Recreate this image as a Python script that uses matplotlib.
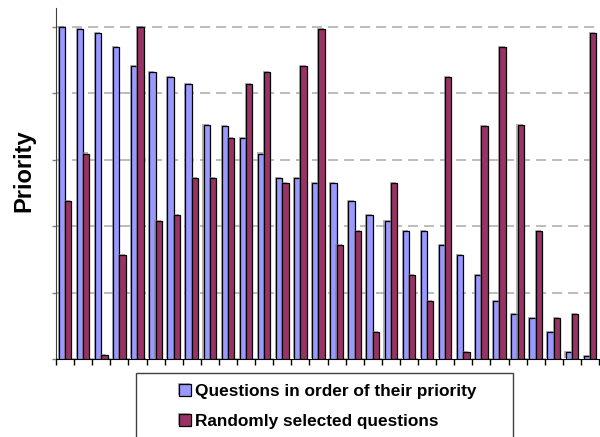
import matplotlib
matplotlib.use("Agg")
import matplotlib.pyplot as plt
import matplotlib.patheffects as pe
from matplotlib.patches import Rectangle
import numpy as np

# Priority scores of 30 questions, two orderings
ordered_priority = [5.00, 4.96, 4.90, 4.69, 4.41, 4.31, 4.24, 4.13, 3.52, 3.51,
                    3.32, 3.09, 2.72, 2.72, 2.65, 2.64, 2.38, 2.16, 2.07, 1.93,
                    1.93, 1.72, 1.56, 1.26, 0.87, 0.68, 0.62, 0.40, 0.105, 0.045]
random_priority = [2.38, 3.09, 0.06, 1.56, 5.00, 2.07, 2.16, 2.72, 2.72, 3.32,
                   4.13, 4.31, 2.65, 4.41, 4.96, 1.72, 1.93, 0.40, 2.64, 1.26,
                   0.87, 4.24, 0.105, 3.51, 4.69, 3.52, 1.93, 0.62, 0.68, 4.90]
series_labels = ["Questions in order of their priority", "Randomly selected questions"]
series_colors = ["#9999FF", "#993366"]

fig = plt.figure(figsize=(6.0, 4.37), dpi=100)
ax = fig.add_axes([56 / 600, 1 - 359 / 437, 543 / 600, 351 / 437])

n = len(ordered_priority)
x = np.arange(n) + 0.5
w = 0.35
shadow = [pe.SimplePatchShadow(offset=(-0.8, 0.8), shadow_rgbFace="#808080", alpha=0.6), pe.Normal()]
b1 = ax.bar(x - w / 2, ordered_priority, w, color=series_colors[0], edgecolor="black",
            linewidth=0.9, label=series_labels[0], zorder=3)
b2 = ax.bar(x + w / 2, random_priority, w, color=series_colors[1], edgecolor="black",
            linewidth=0.9, label=series_labels[1], zorder=3)
for bar in list(b1) + list(b2):
    bar.set_path_effects(shadow)

ax.set_xlim(0, n)
ax.set_ylim(0, 5.28)
ax.set_yticks([0, 1, 2, 3, 4, 5])
ax.set_yticklabels([])
ax.set_xticks(np.arange(0, n + 1))
ax.set_xticklabels([])
ax.yaxis.grid(True, color="#B0B0B0", linewidth=1.2, linestyle=(0, (6, 3.6)), zorder=0)
ax.set_axisbelow(True)
for side in ("top", "right"):
    ax.spines[side].set_visible(False)
ax.spines["left"].set_color("#404040")
ax.spines["bottom"].set_color("black")
ax.tick_params(axis="x", direction="out", length=4, width=1, color="black")
ax.tick_params(axis="y", direction="out", length=3, width=1, color="#808080")

fig.text(24 / 600, 1 - 171 / 437, "Priority", rotation=90, ha="center", va="center",
         fontsize=17, fontweight="bold", family=["Liberation Sans", "DejaVu Sans"])

# Legend box running off the bottom of the figure
fig.patches.append(Rectangle((136 / 600, -0.2), (513 - 136) / 600, 0.2 + 1 - 373 / 437,
                             transform=fig.transFigure, facecolor="white",
                             edgecolor="#404040", linewidth=1.0, clip_on=False))
leg = fig.legend(handles=[b1, b2], loc="upper left",
                 bbox_to_anchor=(179 / 600, 1 - 384 / 437), frameon=False,
                 borderpad=0, borderaxespad=0, handlelength=0.72, handleheight=0.72,
                 handletextpad=0.2, labelspacing=0.85,
                 prop={"family": ["Liberation Sans", "DejaVu Sans"],
                       "weight": "bold", "size": 12.4})

fig.savefig("out.png", dpi=100)
